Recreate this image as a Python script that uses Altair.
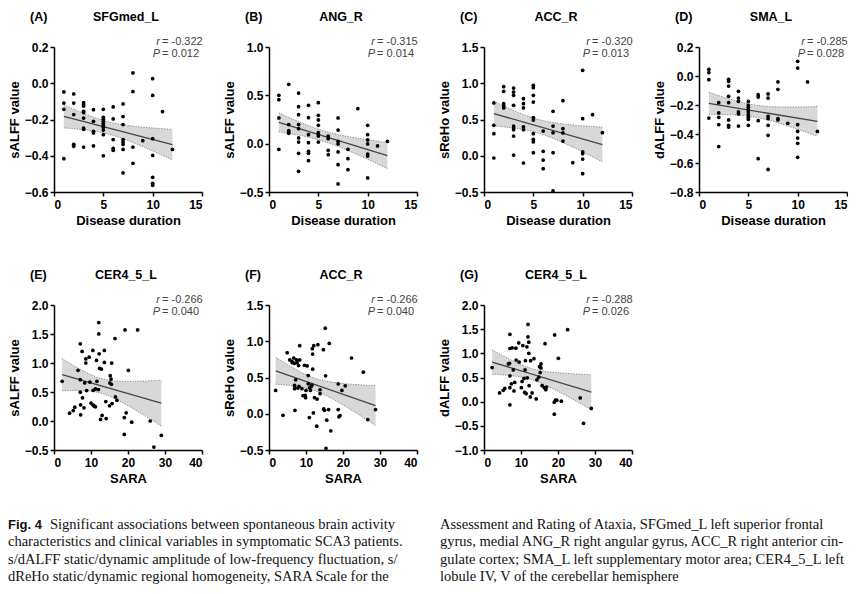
import altair as alt
import numpy as np
import pandas as pd

SANS = "Liberation Sans"
SERIF = "Liberation Serif"

# ---------------- data ----------------
A_x = [1]*4 + [2]*5 + [3]*9 + [4]*5 + [5]*10 + [6]*5 + [7]*8 + [8]*4 + [9] + [10]*7 + [11] + [12]
A_y = [-0.048, -0.109, -0.144, -0.416,
       -0.059, -0.109, -0.173, -0.337, -0.348,
       -0.107, -0.118, -0.126, -0.155, -0.162, -0.192, -0.247, -0.254, -0.352,
       -0.146, -0.210, -0.265, -0.274, -0.346,
       -0.144, -0.188, -0.199, -0.210, -0.221, -0.232, -0.243, -0.258, -0.284, -0.400,
       -0.131, -0.197, -0.311, -0.359, -0.370,
       -0.114, -0.184, -0.228, -0.311, -0.324, -0.337, -0.365, -0.495,
       0.057, -0.046, -0.352, -0.442,
       -0.317,
       0.025, -0.067, -0.306, -0.398, -0.519, -0.552, -0.563,
       -0.157,
       -0.365]

B_x = [1]*4 + [2]*5 + [3]*9 + [4]*7 + [5]*8 + [6]*4 + [7]*7 + [8]*3 + [9] + [10]*7 + [11] + [12]
B_y = [0.500, 0.455, 0.266, -0.059,
       0.614, 0.197, 0.134, 0.120, 0.107,
       0.524, 0.383, 0.300, 0.197, 0.155, 0.059, 0.017, -0.100, -0.286,
       0.397, 0.269, 0.093, 0.010, -0.079, -0.100, -0.176,
       0.424, 0.293, 0.245, 0.190, 0.114, 0.100, 0.079, 0.017,
       0.079, 0.052, -0.069, -0.114,
       0.266, 0.141, 0.024, -0.003, -0.086, -0.217, -0.417,
       -0.059, -0.155, -0.269,
       0.362,
       0.190, 0.093, 0.038, -0.003, -0.107, -0.128, -0.355,
       -0.024,
       0.024]

C_x = [1]*4 + [2]*5 + [3]*9 + [4]*6 + [5]*10 + [6]*4 + [7]*5 + [8]*4 + [9] + [10]*6 + [11] + [12]
C_y = [0.728, 0.420, 0.305, -0.031,
       0.953, 0.889, 0.718, 0.686, 0.659,
       0.934, 0.879, 0.833, 0.695, 0.410, 0.383, 0.360, 0.272, 0.010,
       0.787, 0.718, 0.659, 0.397, 0.360, -0.100,
       0.971, 0.939, 0.833, 0.741, 0.526, 0.493, 0.305, 0.226, 0.190, 0.043,
       0.341, 0.061, -0.059, -0.178,
       0.613, 0.410, 0.318, 0.043, -0.486,
       0.760, 0.374, 0.314, 0.203,
       -0.095,
       1.178, 0.511, 0.052, 0.029, -0.045, -0.247,
       0.567,
       0.318]

D_x = [1]*4 + [2]*5 + [3]*8 + [4]*6 + [5]*9 + [6]*4 + [7]*7 + [8]*4 + [9] + [10]*7 + [11] + [12]
D_y = [0.046, 0.023, -0.025, -0.290,
       -0.184, -0.255, -0.285, -0.336, -0.487,
       -0.023, -0.037, -0.069, -0.140, -0.184, -0.303, -0.340, -0.352,
       -0.106, -0.152, -0.175, -0.248, -0.262, -0.345,
       -0.175, -0.202, -0.216, -0.232, -0.248, -0.267, -0.285, -0.299, -0.340,
       -0.129, -0.145, -0.308, -0.570,
       -0.124, -0.152, -0.278, -0.294, -0.340, -0.409, -0.644,
       -0.041, -0.092, -0.294, -0.303,
       -0.326,
       0.101, 0.055, -0.336, -0.382, -0.428, -0.464, -0.561,
       -0.041,
       -0.382]

E_x = [2.2, 4.2, 5.2, 5.6, 6.5, 7.1, 7.1, 7.1, 7.2, 7.2, 7.6, 7.7, 8.1, 8.3, 8.6, 8.6,
       8.8, 9.5, 9.7, 10.0, 10.5, 10.6, 10.6, 10.9, 11.2, 11.2, 11.5, 11.6, 12.0, 12.1,
       12.1, 12.2, 12.3, 12.6, 12.8, 13.0, 13.6, 13.6, 14.0, 14.1, 15.0, 15.1, 15.2, 15.4,
       15.5, 15.6, 15.7, 16.5, 16.6, 17.0, 19.0, 19.0, 19.2, 19.5, 20.1, 21.0, 22.6, 26.0,
       27.0, 29.0]
E_y = [0.684, 0.135, 0.180, 0.238, 0.873, 1.331, 0.713, 0.496, 0.278, 0.106, 1.200, 0.400,
       0.227, 0.656, 1.000, 1.070, 0.524, 1.100, 0.672, 0.310, 1.216, 0.530, 0.272, 0.255,
       0.553, 0.244, 1.045, 0.684, 0.541, 1.697, 1.502, 1.159, 0.907, 0.026, 0.896, 0.095,
       1.216, 1.010, 0.335, 0.043, 0.261, 0.656, 0.781, 0.724, 0.632, 0.999, 0.301, 1.422,
       0.415, 0.358, -0.231, 0.060, 1.571, 0.141, 0.873, -0.020, 1.571, 0.000, -0.449, -0.248]

F_x = [1.8, 3.8, 4.9, 5.6, 6.2, 6.3, 6.7, 6.9, 6.9, 6.9, 7.0, 7.2, 7.4, 7.6, 7.8, 8.0,
       8.1, 8.3, 8.3, 8.9, 9.2, 9.6, 9.8, 9.9, 10.0, 10.3, 10.6, 10.6, 10.9, 11.0, 11.2,
       11.4, 11.6, 11.7, 11.8, 11.8, 12.0, 12.1, 12.3, 12.9, 13.0, 13.2, 13.8, 13.8, 14.7,
       14.8, 15.0, 15.2, 15.3, 15.4, 15.6, 16.1, 16.3, 16.7, 18.7, 18.7, 18.9, 19.2, 19.7,
       20.6, 22.3, 25.5, 26.7, 28.8]
F_y = [0.322, -0.021, 0.842, 0.742, 0.724, 0.705, 0.769, 0.696, 0.390, 0.345, 0.048, 0.468,
       0.742, 0.705, 0.354, 0.664, 0.377, 0.938, 0.742, 0.345, 0.249, 0.669, 0.253, 0.221,
       0.322, 0.660, 0.527, 0.413, -0.053, 0.358, 0.322, 0.377, 0.395, 0.897, 0.824, 0.614,
       0.011, 0.938, 0.221, -0.171, 0.203, 0.952, 0.331, 0.276, 0.884, 0.066, 0.048, 1.180,
       0.523, -0.477, -0.089, 0.057, 0.970, -0.235, 0.413, 0.057, -0.043, -0.025, 0.322,
       0.386, 0.769, 0.573, -0.080, 0.057]

G_x = [2.2, 4.2, 5.2, 5.6, 6.6, 6.9, 7.0, 7.0, 7.0, 7.0, 7.0, 7.4, 7.6, 7.9, 8.1, 8.3,
       8.6, 8.7, 9.4, 9.5, 10.1, 10.3, 10.5, 10.8, 11.0, 11.1, 11.2, 11.4, 11.6, 11.7, 11.9,
       11.9, 12.1, 12.1, 12.2, 12.5, 12.6, 13.0, 13.5, 14.1, 14.3, 14.8, 15.0, 15.2, 15.4,
       15.4, 15.7, 16.3, 16.5, 16.7, 16.9, 19.0, 19.1, 19.3, 19.7, 19.0, 20.1, 20.9, 22.6,
       26.0, 26.9, 29.0]
G_y = [0.705, 0.180, 0.234, 0.275, 0.780, 0.793, 1.393, 1.100, 0.534, 0.289, -0.065, 0.370,
       1.114, 0.657, 0.221, 0.398, 1.107, 0.862, 1.216, 0.820, 0.289, 0.418, 1.160, 0.480,
       0.194, 0.657, 0.848, 0.166, 1.134, 0.493, 1.598, 1.339, 1.230, 1.000, 0.330, 0.098,
       0.848, 0.180, 0.889, 0.057, 0.452, 0.507, 0.725, 0.602, 0.780, 0.698, 0.330, 0.289,
       1.200, 0.248, 0.303, -0.011, 1.380, 0.030, 0.030, -0.260, 0.896, 0.009, 1.490, 0.077,
       -0.447, -0.140]

letters = ["A", "B", "C", "D", "E", "F", "G"]
regions = ["SFGmed_L", "ANG_R", "ACC_R", "SMA_L", "CER4_5_L", "ACC_R", "CER4_5_L"]
y_titles = ["sALFF value", "sALFF value", "sReHo value", "dALFF value",
            "sALFF value", "sReHo value", "dALFF value"]
x_titles = ["Disease duration"] * 4 + ["SARA"] * 3
r_vals = ["-0.322", "-0.315", "-0.320", "-0.285", "-0.266", "-0.266", "-0.288"]
p_vals = ["0.012", "0.014", "0.013", "0.028", "0.040", "0.040", "0.026"]
x_domains = [[0, 15]] * 4 + [[0, 40]] * 3
x_ticks = [[0, 5, 10, 15]] * 4 + [[0, 10, 20, 30, 40]] * 3
y_domains = [[-0.6, 0.2], [-0.5, 1.0], [-0.5, 1.5], [-0.8, 0.2],
             [-0.5, 2.0], [-0.5, 1.5], [-1.0, 2.0]]
y_ticks = [[-0.6, -0.4, -0.2, 0.0, 0.2],
           [-0.5, 0.0, 0.5, 1.0],
           [-0.5, 0.0, 0.5, 1.0, 1.5],
           [-0.8, -0.6, -0.4, -0.2, 0.0, 0.2],
           [-0.5, 0.0, 0.5, 1.0, 1.5, 2.0],
           [-0.5, 0.0, 0.5, 1.0, 1.5],
           [-1.0, -0.5, 0.0, 0.5, 1.0, 1.5, 2.0]]
xs_all = [A_x, B_x, C_x, D_x, E_x, F_x, G_x]
ys_all = [A_y, B_y, C_y, D_y, E_y, F_y, G_y]

caption_left = [
    "Significant associations between spontaneous brain activity",
    "characteristics and clinical variables in symptomatic SCA3 patients.",
    "s/dALFF static/dynamic amplitude of low-frequency fluctuation, s/",
    "dReHo static/dynamic regional homogeneity, SARA Scale for the",
]
caption_right = [
    "Assessment and Rating of Ataxia, SFGmed_L left superior frontal",
    "gyrus, medial ANG_R right angular gyrus, ACC_R right anterior cin-",
    "gulate cortex; SMA_L left supplementary motor area; CER4_5_L left",
    "lobule IV, V of the cerebellar hemisphere",
]
fig_label = "Fig. 4"

W, H = 148, 145


def conf_band(xs, ys):
    x = np.asarray(xs, float)
    y = np.asarray(ys, float)
    n = len(x)
    b, a = np.polyfit(x, y, 1)
    res = y - (a + b * x)
    s = np.sqrt((res ** 2).sum() / (n - 2))
    xm = x.mean()
    sxx = ((x - xm) ** 2).sum()
    g = np.linspace(x.min(), x.max(), 60)
    yh = a + b * g
    se = s * np.sqrt(1.0 / n + (g - xm) ** 2 / sxx)
    t = 2.0
    return pd.DataFrame({"x": g, "lo": yh - t * se, "hi": yh + t * se})


def panel(i):
    pts = pd.DataFrame({"x": xs_all[i], "y": ys_all[i]})
    band = conf_band(xs_all[i], ys_all[i])
    xsc = alt.Scale(domain=x_domains[i], nice=False, zero=False)
    ysc = alt.Scale(domain=y_domains[i], nice=False, zero=False)
    xax = alt.Axis(values=x_ticks[i], title=x_titles[i], format="d")
    yax = alt.Axis(values=y_ticks[i], title=y_titles[i], format=".1f")

    def X(f):
        return alt.X(f, scale=xsc, axis=xax)

    def Y(f):
        return alt.Y(f, scale=ysc, axis=yax)

    area = alt.Chart(band).mark_area(color="#d8d8d8", opacity=1).encode(
        x=X("x:Q"), y=Y("lo:Q"), y2="hi:Q")
    edges = alt.Chart(band).transform_fold(["lo", "hi"]).mark_line(
        color="#6a6a6a", strokeWidth=0.8, strokeDash=[1.2, 1.4]
    ).encode(x=X("x:Q"), y=Y("value:Q"), detail="key:N")
    fit = alt.Chart(pts).transform_regression("x", "y").mark_line(
        color="#444444", strokeWidth=1.3
    ).encode(x=X("x:Q"), y=Y("y:Q"))
    dots = alt.Chart(pts).mark_circle(size=14, color="black", opacity=1).encode(
        x=X("x:Q"), y=Y("y:Q"))

    lab = pd.DataFrame({
        "letter": [f"({letters[i]})"], "name": [regions[i]],
        "rl": ["r"], "rv": [f"= {r_vals[i]}"], "pl": ["P"], "pv": [f"= {p_vals[i]}"],
    })
    base = alt.Chart(lab)
    t_letter = base.mark_text(align="left", baseline="middle", font=SANS,
                              fontWeight="bold", fontSize=12.5, color="black").encode(
        text="letter:N", x=alt.value(-24), y=alt.value(-30))
    t_name = base.mark_text(align="center", baseline="middle", font=SANS,
                            fontWeight="bold", fontSize=12.5, color="black").encode(
        text="name:N", x=alt.value(W / 2 - 2), y=alt.value(-30))
    sty = dict(baseline="middle", font=SANS, fontSize=11, color="#444444")
    t_r = base.mark_text(align="right", fontStyle="italic", **sty).encode(
        text="rl:N", x=alt.value(106), y=alt.value(-5))
    t_rv = base.mark_text(align="left", **sty).encode(
        text="rv:N", x=alt.value(108), y=alt.value(-5))
    t_p = base.mark_text(align="right", fontStyle="italic", **sty).encode(
        text="pl:N", x=alt.value(106), y=alt.value(7))
    t_pv = base.mark_text(align="left", **sty).encode(
        text="pv:N", x=alt.value(108), y=alt.value(7))

    return alt.layer(area, edges, fit, dots, t_letter, t_name, t_r, t_rv, t_p, t_pv).properties(
        width=W, height=H)


panels = [panel(i) for i in range(7)]
grid = alt.concat(*panels, columns=4, spacing={"row": 113, "column": 67}, bounds="flush")

cap_df = pd.DataFrame({
    "col": [0, 0, 0, 1, 1, 1, 1],
    "line": [1, 2, 3, 0, 1, 2, 3],
    "text": caption_left[1:] + caption_right,
})
first_df = pd.DataFrame({"col": [0], "line": [0], "text": [caption_left[0]]})
fig_df = pd.DataFrame({"col": [0], "line": [0], "text": [fig_label]})

cx = alt.X("col:Q", scale=alt.Scale(domain=[0, 1], range=[-46, 386]), axis=None)
cy = alt.Y("line:Q", scale=alt.Scale(domain=[0, 3], range=[10, 62]), axis=None)
cap_sty = dict(align="left", baseline="middle", font=SERIF, fontSize=14.5, color="#111111")
cap_main = alt.Chart(cap_df).mark_text(**cap_sty).encode(x=cx, y=cy, text="text:N")
cap_first = alt.Chart(first_df).mark_text(dx=42, **cap_sty).encode(x=cx, y=cy, text="text:N")
cap_fig = alt.Chart(fig_df).mark_text(align="left", baseline="middle", font=SANS,
                                      fontWeight="bold", fontSize=13, color="#111111").encode(
    x=cx, y=cy, text="text:N")
caption = alt.layer(cap_fig, cap_first, cap_main).properties(width=780, height=68)

chart = alt.vconcat(grid, caption, spacing=30).properties(
    padding={"left": 0, "top": 3, "right": 0, "bottom": 0}
).configure_view(stroke=None).configure_axis(
    grid=False,
    domainColor="black", domainWidth=1.5,
    tickColor="black", tickWidth=1.5, tickSize=4,
    labelFont=SANS, labelFontWeight="bold", labelFontSize=12, labelColor="black",
    titleFont=SANS, titleFontWeight="bold", titleFontSize=13, titleColor="black",
).configure_axisX(labelPadding=3, titlePadding=4).configure_axisY(labelPadding=2, titlePadding=3)

chart.save("out.html", embed_options={"renderer": "svg", "actions": False})
